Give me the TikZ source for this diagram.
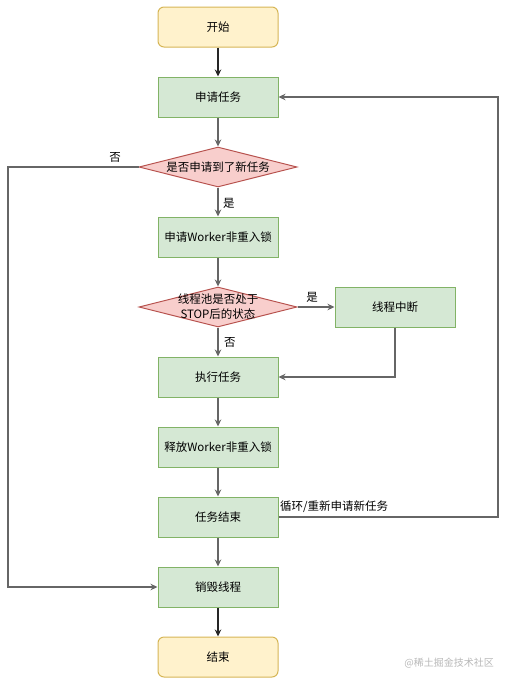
\documentclass[tikz,border=0pt]{standalone}
\usepackage{fontspec}
\setmainfont{Noto Sans CJK SC}
\usetikzlibrary{arrows.meta,shapes.geometric}
\definecolor{yfill}{HTML}{FFF2CC}
\definecolor{ydraw}{HTML}{D6B656}
\definecolor{gfill}{HTML}{D5E8D4}
\definecolor{gdraw}{HTML}{82B366}
\definecolor{rfill}{HTML}{F8CECC}
\definecolor{rdraw}{HTML}{B85450}
\definecolor{lgray}{HTML}{666666}
\tikzset{
  x=1pt,y=-1pt,
  every node/.style={font=\fontsize{11.5}{14}\selectfont},
  term/.style={draw=ydraw,fill=yfill,line width=1pt,rounded corners=6pt,minimum width=120pt,minimum height=40pt,inner sep=0pt},
  proc/.style={draw=gdraw,fill=gfill,line width=1pt,minimum width=120pt,minimum height=40pt,inner sep=0pt},
  dec/.style={draw=rdraw,fill=rfill,line width=1pt,diamond,inner sep=0pt,minimum width=158pt,minimum height=40pt},
  lbl/.style={inner sep=1pt},
  conn/.style={draw=lgray,line width=1.3pt,-{Stealth[length=7pt,width=6.5pt]}},
  connk/.style={draw=black!85,line width=1.3pt,-{Stealth[length=7pt,width=6.5pt]}},
  wm/.style={font=\fontsize{10}{12}\selectfont,text=black!28,inner sep=0pt}
}
\begin{document}
\begin{tikzpicture}
\useasboundingbox (0,0) rectangle (511,686);
\node[term] (start) at (218,27) {开始};
\node[proc] (apply) at (218,97) {申请任务};
\node[dec] (d1) at (218,167) {};
\node[lbl] (d1t) at (d1.center) {是否申请到了新任务};
\node[proc] (lock) at (218,237) {申请Worker非重入锁};
\node[dec] (d2) at (218,307) {};
\node[lbl,align=center,font=\fontsize{11.5}{15}\selectfont] (d2t) at (d2.center) {线程池是否处于\\STOP后的状态};
\node[proc] (intr) at (395,307) {线程中断};
\node[proc] (exec) at (218,377) {执行任务};
\node[proc] (unlock) at (218,447) {释放Worker非重入锁};
\node[proc] (done) at (218,517) {任务结束};
\node[proc] (destroy) at (218,587) {销毁线程};
\node[term] (end) at (218,657) {结束};

\coordinate (lt) at (8,167);
\coordinate (lb) at (8,587);
\coordinate (rb) at (498,517);
\coordinate (rt) at (498,97);
\coordinate (ib) at (395,377);

\draw[connk] (start) -- (apply);
\draw[conn] (apply) -- (d1.north);
\draw[conn] (d1.south) -- (lock);
\draw[conn] (lock) -- (d2.north);
\draw[conn] (d2.east) -- (intr);
\draw[conn] (d2.south) -- (exec);
\draw[conn] (intr.south) -- (ib) -- (exec.east);
\draw[conn] (exec) -- (unlock);
\draw[conn] (unlock) -- (done);
\draw[conn] (done) -- (destroy);
\draw[connk] (destroy) -- (end);
\draw[conn] (d1.west) -- (lt) -- (lb) -- (destroy.west);
\draw[conn] (done.east) -- (rb) -- (rt) -- (apply.east);

\node[lbl] (l1) at (115,157) {否};
\node[lbl,anchor=west] (l2) at (222,203) {是};
\node[lbl] (l3) at (312,297) {是};
\node[lbl,anchor=west] (l4) at (223,342) {否};
\node[lbl,anchor=west] (l5) at (279,507) {循环/重新申请新任务};
\node[wm,anchor=east] (wm) at (494,663) {@稀土掘金技术社区};
\end{tikzpicture}
\end{document}
